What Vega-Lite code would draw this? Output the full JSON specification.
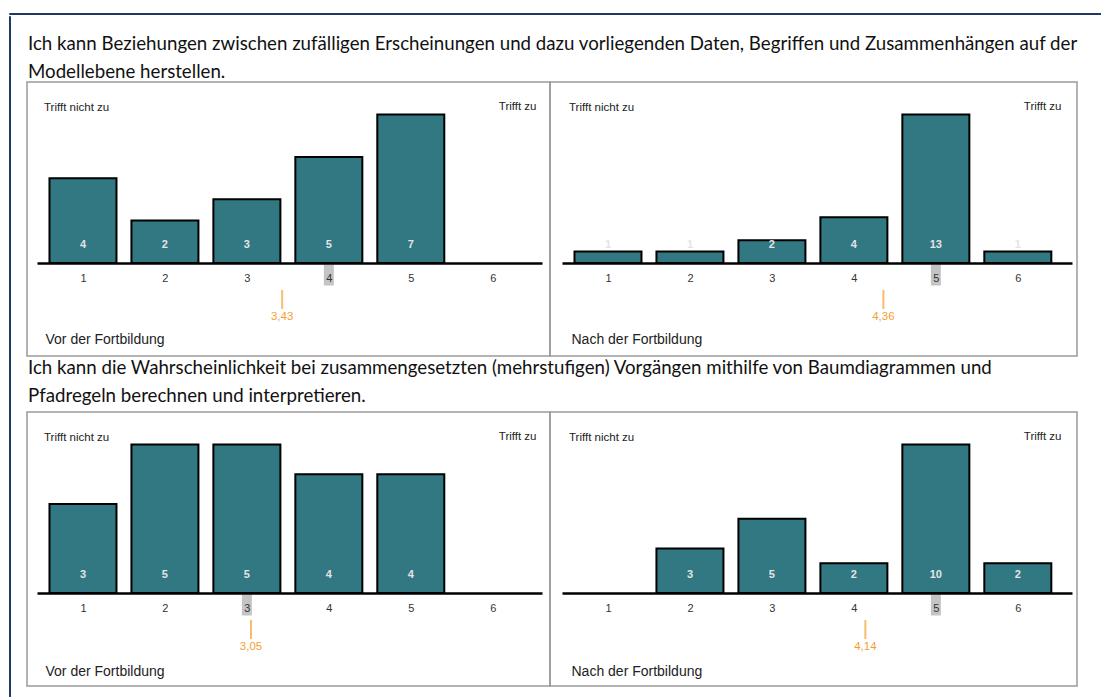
{
  "$schema": "https://vega.github.io/schema/vega-lite/v6.json",
  "padding": {"left": 8, "top": 12, "right": 0, "bottom": 0},
  "background": "white",
  "config": {"view": {"stroke": null}},
  "datasets": {
    "bars": [
      {"panel": "A", "value": 1, "count": 4},
      {"panel": "A", "value": 2, "count": 2},
      {"panel": "A", "value": 3, "count": 3},
      {"panel": "A", "value": 4, "count": 5},
      {"panel": "A", "value": 5, "count": 7},
      {"panel": "B", "value": 1, "count": 1},
      {"panel": "B", "value": 2, "count": 1},
      {"panel": "B", "value": 3, "count": 2},
      {"panel": "B", "value": 4, "count": 4},
      {"panel": "B", "value": 5, "count": 13},
      {"panel": "B", "value": 6, "count": 1},
      {"panel": "C", "value": 1, "count": 3},
      {"panel": "C", "value": 2, "count": 5},
      {"panel": "C", "value": 3, "count": 5},
      {"panel": "C", "value": 4, "count": 4},
      {"panel": "C", "value": 5, "count": 4},
      {"panel": "D", "value": 2, "count": 3},
      {"panel": "D", "value": 3, "count": 5},
      {"panel": "D", "value": 4, "count": 2},
      {"panel": "D", "value": 5, "count": 10},
      {"panel": "D", "value": 6, "count": 2}
    ],
    "stats": [
      {"panel": "A", "mean": 3.43, "median": 4},
      {"panel": "B", "mean": 4.36, "median": 5},
      {"panel": "C", "mean": 3.05, "median": 3},
      {"panel": "D", "mean": 4.14, "median": 5}
    ]
  },
  "spacing": 0,
  "vconcat": [
    {"width": 1093, "height": 1, "data": {"values": []}, "mark": "point", "encoding": {}, "view": {"stroke": "#1f3864", "strokeWidth": 1}},
    {
      "spacing": 15,
      "hconcat": [
        {"width": 1, "height": 684, "data": {"values": []}, "mark": "point", "encoding": {}, "view": {"stroke": "#1f3864", "strokeWidth": 1}},
        {
          "spacing": 1,
          "vconcat": [
            {"width": 10, "height": 17, "data": {"values": []}, "mark": "point", "encoding": {}},
            {
              "title": {"text": ["Ich kann Beziehungen zwischen zufälligen Erscheinungen und dazu vorliegenden Daten, Begriffen und Zusammenhängen auf der", "Modellebene herstellen."], "anchor": "start", "frame": "group", "font": "Lato", "fontSize": 18.7, "fontWeight": "normal", "color": "#111111", "lineHeight": 28, "offset": 0, "dx": 1},
              "spacing": 0,
              "bounds": "flush",
              "hconcat": [
                {
                  "width": 523, "height": 274,
                  "view": {"stroke": "#9a9a9a", "strokeWidth": 1.5},
                  "title": {"text": "Trifft nicht zu", "orient": "top", "anchor": "start", "frame": "group", "offset": -31, "dx": 17, "font": "Liberation Sans", "fontSize": 11.5, "fontWeight": "normal", "color": "#222222"},
                  "layer": [
                    {"data": {"name": "bars"}, "transform": [{"filter": "datum.panel === 'A'"}],
                     "mark": {"type": "bar", "width": 67, "fill": "#317882", "stroke": "#000000", "strokeWidth": 2},
                     "encoding": {
                       "x": {"field": "value", "type": "quantitative", "scale": {"domain": [0.5, 6.54], "range": [10, 515], "nice": false, "zero": false},
                             "axis": {"orient": "bottom", "offset": -93, "values": [1, 2, 3, 4, 5, 6], "format": "d", "domainColor": "#000000", "domainWidth": 2.5, "ticks": false, "grid": false, "labelPadding": 9, "labelFontSize": 11, "labelFont": "Liberation Sans", "labelColor": "#333333", "labelFlush": false, "zindex": 1,
                                      "title": "Trifft zu", "titleX": 509, "titleY": -157, "titleAlign": "right", "titleAnchor": "end", "titleBaseline": "middle", "titleFont": "Liberation Sans", "titleFontSize": 11.5, "titleFontWeight": "normal", "titleColor": "#222222"}},
                       "y": {"field": "count", "type": "quantitative", "scale": {"range": [181, 32.5], "nice": false, "zero": true},
                             "axis": {"orient": "left", "domain": false, "ticks": false, "labels": false, "grid": false, "minExtent": 0, "maxExtent": 0,
                                      "title": "Vor der Fortbildung", "titleAngle": 0, "titleX": 18, "titleY": 257, "titleAlign": "left", "titleAnchor": "start", "titleBaseline": "middle", "titleFont": "Liberation Sans", "titleFontSize": 14, "titleFontWeight": "normal", "titleColor": "#222222"}}
                     }},
                    {"data": {"name": "stats"}, "transform": [{"filter": "datum.panel === 'A'"}],
                     "mark": {"type": "tick", "orient": "vertical", "color": "#c4c4c4", "opacity": 1, "thickness": 10, "size": 21, "yOffset": 12},
                     "encoding": {
                       "x": {"field": "median", "type": "quantitative"},
                       "y": {"datum": 0, "type": "quantitative"}
                     }},
                    {"data": {"name": "bars"}, "transform": [{"filter": "datum.panel === 'A'"}],
                     "mark": {"type": "text", "dy": -18, "color": "#e4e4e4", "fontSize": 11, "fontWeight": "bold", "font": "Liberation Sans"},
                     "encoding": {
                       "x": {"field": "value", "type": "quantitative"},
                       "y": {"datum": 0, "type": "quantitative"},
                       "text": {"field": "count", "type": "quantitative"}
                     }},
                    {"data": {"name": "stats"}, "transform": [{"filter": "datum.panel === 'A'"}],
                     "mark": {"type": "tick", "orient": "vertical", "color": "#f5a030", "thickness": 2, "size": 19, "yOffset": 36.5},
                     "encoding": {
                       "x": {"field": "mean", "type": "quantitative"},
                       "y": {"datum": 0, "type": "quantitative"}
                     }},
                    {"data": {"name": "stats"}, "transform": [{"filter": "datum.panel === 'A'"}, {"calculate": "replace(format(datum.mean, '.2f'), '.', ',')", "as": "mean_label"}],
                     "mark": {"type": "text", "dy": 54, "color": "#f5a030", "fontSize": 11.5, "font": "Liberation Sans"},
                     "encoding": {
                       "x": {"field": "mean", "type": "quantitative"},
                       "y": {"datum": 0, "type": "quantitative"},
                       "text": {"field": "mean_label", "type": "nominal"}
                     }}
                  ]
                },
                {
                  "width": 527, "height": 274,
                  "view": {"stroke": "#9a9a9a", "strokeWidth": 1.5},
                  "title": {"text": "Trifft nicht zu", "orient": "top", "anchor": "start", "frame": "group", "offset": -31, "dx": 19, "font": "Liberation Sans", "fontSize": 11.5, "fontWeight": "normal", "color": "#222222"},
                  "layer": [
                    {"data": {"name": "bars"}, "transform": [{"filter": "datum.panel === 'B'"}],
                     "mark": {"type": "bar", "width": 67, "fill": "#317882", "stroke": "#000000", "strokeWidth": 2},
                     "encoding": {
                       "x": {"field": "value", "type": "quantitative", "scale": {"domain": [0.5, 6.6], "range": [12, 522], "nice": false, "zero": false},
                             "axis": {"orient": "bottom", "offset": -93, "values": [1, 2, 3, 4, 5, 6], "format": "d", "domainColor": "#000000", "domainWidth": 2.5, "ticks": false, "grid": false, "labelPadding": 9, "labelFontSize": 11, "labelFont": "Liberation Sans", "labelColor": "#333333", "labelFlush": false, "zindex": 1,
                                      "title": "Trifft zu", "titleX": 511, "titleY": -157, "titleAlign": "right", "titleAnchor": "end", "titleBaseline": "middle", "titleFont": "Liberation Sans", "titleFontSize": 11.5, "titleFontWeight": "normal", "titleColor": "#222222"}},
                       "y": {"field": "count", "type": "quantitative", "scale": {"range": [181, 32.5], "nice": false, "zero": true},
                             "axis": {"orient": "left", "domain": false, "ticks": false, "labels": false, "grid": false, "minExtent": 0, "maxExtent": 0,
                                      "title": "Nach der Fortbildung", "titleAngle": 0, "titleX": 21, "titleY": 257, "titleAlign": "left", "titleAnchor": "start", "titleBaseline": "middle", "titleFont": "Liberation Sans", "titleFontSize": 14, "titleFontWeight": "normal", "titleColor": "#222222"}}
                     }},
                    {"data": {"name": "stats"}, "transform": [{"filter": "datum.panel === 'B'"}],
                     "mark": {"type": "tick", "orient": "vertical", "color": "#c4c4c4", "opacity": 1, "thickness": 10, "size": 21, "yOffset": 12},
                     "encoding": {
                       "x": {"field": "median", "type": "quantitative"},
                       "y": {"datum": 0, "type": "quantitative"}
                     }},
                    {"data": {"name": "bars"}, "transform": [{"filter": "datum.panel === 'B'"}],
                     "mark": {"type": "text", "dy": -18, "color": "#e4e4e4", "fontSize": 11, "fontWeight": "bold", "font": "Liberation Sans"},
                     "encoding": {
                       "x": {"field": "value", "type": "quantitative"},
                       "y": {"datum": 0, "type": "quantitative"},
                       "text": {"field": "count", "type": "quantitative"}
                     }},
                    {"data": {"name": "stats"}, "transform": [{"filter": "datum.panel === 'B'"}],
                     "mark": {"type": "tick", "orient": "vertical", "color": "#f5a030", "thickness": 2, "size": 19, "yOffset": 36.5},
                     "encoding": {
                       "x": {"field": "mean", "type": "quantitative"},
                       "y": {"datum": 0, "type": "quantitative"}
                     }},
                    {"data": {"name": "stats"}, "transform": [{"filter": "datum.panel === 'B'"}, {"calculate": "replace(format(datum.mean, '.2f'), '.', ',')", "as": "mean_label"}],
                     "mark": {"type": "text", "dy": 54, "color": "#f5a030", "fontSize": 11.5, "font": "Liberation Sans"},
                     "encoding": {
                       "x": {"field": "mean", "type": "quantitative"},
                       "y": {"datum": 0, "type": "quantitative"},
                       "text": {"field": "mean_label", "type": "nominal"}
                     }}
                  ]
                }
              ]
            },
            {
              "title": {"text": ["Ich kann die Wahrscheinlichkeit bei zusammengesetzten (mehrstufigen) Vorgängen mithilfe von Baumdiagrammen und", "Pfadregeln berechnen und interpretieren."], "anchor": "start", "frame": "group", "font": "Lato", "fontSize": 18.7, "fontWeight": "normal", "color": "#111111", "lineHeight": 28, "offset": 6, "dx": 1},
              "spacing": 0,
              "bounds": "flush",
              "hconcat": [
                {
                  "width": 523, "height": 274,
                  "view": {"stroke": "#9a9a9a", "strokeWidth": 1.5},
                  "title": {"text": "Trifft nicht zu", "orient": "top", "anchor": "start", "frame": "group", "offset": -31, "dx": 17, "font": "Liberation Sans", "fontSize": 11.5, "fontWeight": "normal", "color": "#222222"},
                  "layer": [
                    {"data": {"name": "bars"}, "transform": [{"filter": "datum.panel === 'C'"}],
                     "mark": {"type": "bar", "width": 67, "fill": "#317882", "stroke": "#000000", "strokeWidth": 2},
                     "encoding": {
                       "x": {"field": "value", "type": "quantitative", "scale": {"domain": [0.5, 6.54], "range": [10, 515], "nice": false, "zero": false},
                             "axis": {"orient": "bottom", "offset": -93, "values": [1, 2, 3, 4, 5, 6], "format": "d", "domainColor": "#000000", "domainWidth": 2.5, "ticks": false, "grid": false, "labelPadding": 9, "labelFontSize": 11, "labelFont": "Liberation Sans", "labelColor": "#333333", "labelFlush": false, "zindex": 1,
                                      "title": "Trifft zu", "titleX": 509, "titleY": -157, "titleAlign": "right", "titleAnchor": "end", "titleBaseline": "middle", "titleFont": "Liberation Sans", "titleFontSize": 11.5, "titleFontWeight": "normal", "titleColor": "#222222"}},
                       "y": {"field": "count", "type": "quantitative", "scale": {"range": [181, 32.5], "nice": false, "zero": true},
                             "axis": {"orient": "left", "domain": false, "ticks": false, "labels": false, "grid": false, "minExtent": 0, "maxExtent": 0,
                                      "title": "Vor der Fortbildung", "titleAngle": 0, "titleX": 18, "titleY": 259, "titleAlign": "left", "titleAnchor": "start", "titleBaseline": "middle", "titleFont": "Liberation Sans", "titleFontSize": 14, "titleFontWeight": "normal", "titleColor": "#222222"}}
                     }},
                    {"data": {"name": "stats"}, "transform": [{"filter": "datum.panel === 'C'"}],
                     "mark": {"type": "tick", "orient": "vertical", "color": "#c4c4c4", "opacity": 1, "thickness": 10, "size": 21, "yOffset": 12},
                     "encoding": {
                       "x": {"field": "median", "type": "quantitative"},
                       "y": {"datum": 0, "type": "quantitative"}
                     }},
                    {"data": {"name": "bars"}, "transform": [{"filter": "datum.panel === 'C'"}],
                     "mark": {"type": "text", "dy": -18, "color": "#e4e4e4", "fontSize": 11, "fontWeight": "bold", "font": "Liberation Sans"},
                     "encoding": {
                       "x": {"field": "value", "type": "quantitative"},
                       "y": {"datum": 0, "type": "quantitative"},
                       "text": {"field": "count", "type": "quantitative"}
                     }},
                    {"data": {"name": "stats"}, "transform": [{"filter": "datum.panel === 'C'"}],
                     "mark": {"type": "tick", "orient": "vertical", "color": "#f5a030", "thickness": 2, "size": 19, "yOffset": 36.5},
                     "encoding": {
                       "x": {"field": "mean", "type": "quantitative"},
                       "y": {"datum": 0, "type": "quantitative"}
                     }},
                    {"data": {"name": "stats"}, "transform": [{"filter": "datum.panel === 'C'"}, {"calculate": "replace(format(datum.mean, '.2f'), '.', ',')", "as": "mean_label"}],
                     "mark": {"type": "text", "dy": 54, "color": "#f5a030", "fontSize": 11.5, "font": "Liberation Sans"},
                     "encoding": {
                       "x": {"field": "mean", "type": "quantitative"},
                       "y": {"datum": 0, "type": "quantitative"},
                       "text": {"field": "mean_label", "type": "nominal"}
                     }}
                  ]
                },
                {
                  "width": 527, "height": 274,
                  "view": {"stroke": "#9a9a9a", "strokeWidth": 1.5},
                  "title": {"text": "Trifft nicht zu", "orient": "top", "anchor": "start", "frame": "group", "offset": -31, "dx": 19, "font": "Liberation Sans", "fontSize": 11.5, "fontWeight": "normal", "color": "#222222"},
                  "layer": [
                    {"data": {"name": "bars"}, "transform": [{"filter": "datum.panel === 'D'"}],
                     "mark": {"type": "bar", "width": 67, "fill": "#317882", "stroke": "#000000", "strokeWidth": 2},
                     "encoding": {
                       "x": {"field": "value", "type": "quantitative", "scale": {"domain": [0.5, 6.6], "range": [12, 522], "nice": false, "zero": false},
                             "axis": {"orient": "bottom", "offset": -93, "values": [1, 2, 3, 4, 5, 6], "format": "d", "domainColor": "#000000", "domainWidth": 2.5, "ticks": false, "grid": false, "labelPadding": 9, "labelFontSize": 11, "labelFont": "Liberation Sans", "labelColor": "#333333", "labelFlush": false, "zindex": 1,
                                      "title": "Trifft zu", "titleX": 511, "titleY": -157, "titleAlign": "right", "titleAnchor": "end", "titleBaseline": "middle", "titleFont": "Liberation Sans", "titleFontSize": 11.5, "titleFontWeight": "normal", "titleColor": "#222222"}},
                       "y": {"field": "count", "type": "quantitative", "scale": {"range": [181, 32.5], "nice": false, "zero": true},
                             "axis": {"orient": "left", "domain": false, "ticks": false, "labels": false, "grid": false, "minExtent": 0, "maxExtent": 0,
                                      "title": "Nach der Fortbildung", "titleAngle": 0, "titleX": 21, "titleY": 259, "titleAlign": "left", "titleAnchor": "start", "titleBaseline": "middle", "titleFont": "Liberation Sans", "titleFontSize": 14, "titleFontWeight": "normal", "titleColor": "#222222"}}
                     }},
                    {"data": {"name": "stats"}, "transform": [{"filter": "datum.panel === 'D'"}],
                     "mark": {"type": "tick", "orient": "vertical", "color": "#c4c4c4", "opacity": 1, "thickness": 10, "size": 21, "yOffset": 12},
                     "encoding": {
                       "x": {"field": "median", "type": "quantitative"},
                       "y": {"datum": 0, "type": "quantitative"}
                     }},
                    {"data": {"name": "bars"}, "transform": [{"filter": "datum.panel === 'D'"}],
                     "mark": {"type": "text", "dy": -18, "color": "#e4e4e4", "fontSize": 11, "fontWeight": "bold", "font": "Liberation Sans"},
                     "encoding": {
                       "x": {"field": "value", "type": "quantitative"},
                       "y": {"datum": 0, "type": "quantitative"},
                       "text": {"field": "count", "type": "quantitative"}
                     }},
                    {"data": {"name": "stats"}, "transform": [{"filter": "datum.panel === 'D'"}],
                     "mark": {"type": "tick", "orient": "vertical", "color": "#f5a030", "thickness": 2, "size": 19, "yOffset": 36.5},
                     "encoding": {
                       "x": {"field": "mean", "type": "quantitative"},
                       "y": {"datum": 0, "type": "quantitative"}
                     }},
                    {"data": {"name": "stats"}, "transform": [{"filter": "datum.panel === 'D'"}, {"calculate": "replace(format(datum.mean, '.2f'), '.', ',')", "as": "mean_label"}],
                     "mark": {"type": "text", "dy": 54, "color": "#f5a030", "fontSize": 11.5, "font": "Liberation Sans"},
                     "encoding": {
                       "x": {"field": "mean", "type": "quantitative"},
                       "y": {"datum": 0, "type": "quantitative"},
                       "text": {"field": "mean_label", "type": "nominal"}
                     }}
                  ]
                }
              ]
            }
          ]
        }
      ]
    }
  ]
}
